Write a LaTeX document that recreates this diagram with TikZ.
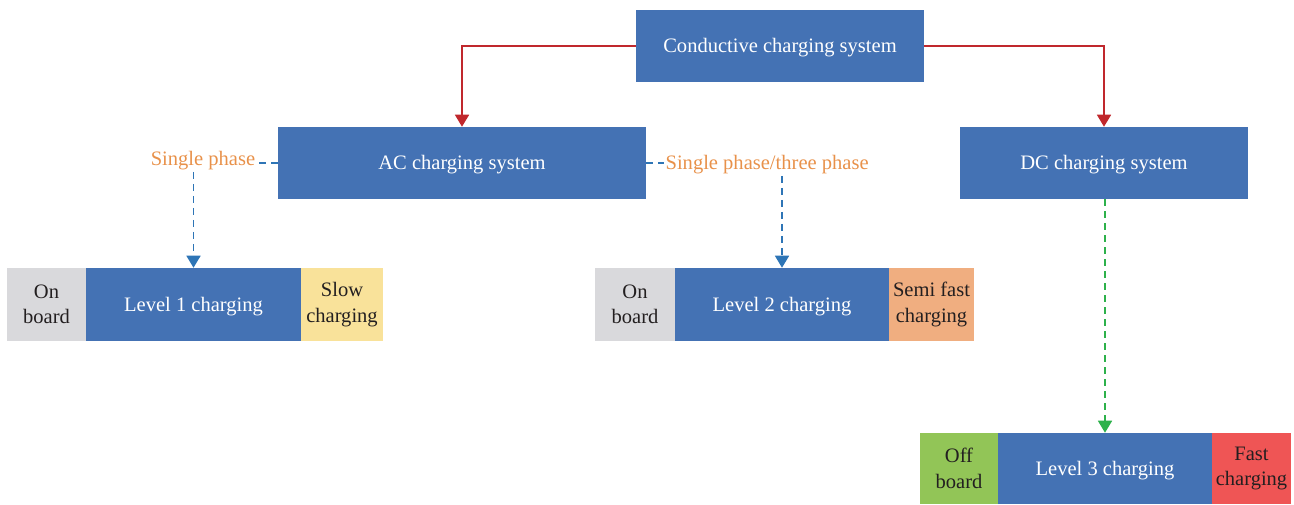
\documentclass[tikz,border=0pt]{standalone}
\usepackage{fontspec}
\setmainfont{Liberation Serif}
\usetikzlibrary{arrows.meta}
\definecolor{bbox}{HTML}{4472B4}
\definecolor{redarr}{HTML}{C0282D}
\definecolor{orangetxt}{HTML}{E8914A}
\definecolor{bluearr}{HTML}{2E75B6}
\definecolor{greenarr}{HTML}{2DB14B}
\definecolor{greybox}{HTML}{D9D9DC}
\definecolor{yellowbox}{HTML}{F9E29A}
\definecolor{peachbox}{HTML}{F0AE80}
\definecolor{greenbox}{HTML}{92C557}
\definecolor{redbox}{HTML}{EF5555}
\definecolor{darktxt}{HTML}{231F20}
\tikzset{
  mainbox/.style={fill=bbox, text=white, inner sep=0pt, font=\fontsize{15.4}{19}\selectfont, text height=13.6pt, text depth=3.4pt},
  sidebox/.style={inner sep=0pt, text=darktxt, font=\fontsize{15.4}{19}\selectfont, align=center},
  lbl/.style={text=orangetxt, inner sep=1pt, font=\fontsize{15.4}{19}\selectfont},
  redline/.style={draw=redarr, line width=1.2pt, -{Triangle[width=10.5pt,length=9pt]}},
  bluedash/.style={draw=bluearr, line width=1.2pt, dash pattern=on 5pt off 4pt},
  bluedarr/.style={bluedash, -{Triangle[width=10.5pt,length=9pt]}},
  greendarr/.style={draw=greenarr, line width=1.2pt, dash pattern=on 5pt off 4pt, -{Triangle[width=10.5pt,length=9pt]}}
}
\begin{document}
\begin{tikzpicture}[x=0.75pt,y=-0.75pt]
\useasboundingbox (0,0) rectangle (1294,504);
% top
\node[mainbox, minimum width=216pt, minimum height=54pt] (cond) at (780,46) {Conductive charging system};
\node[mainbox, minimum width=276pt, minimum height=54pt] (ac) at (462,163) {AC charging system};
\node[mainbox, minimum width=216pt, minimum height=54pt] (dc) at (1104,163) {DC charging system};
% level 1
\node[sidebox, fill=greybox, minimum width=59.25pt, minimum height=54.75pt] (on1) at (46.5,304.5) {On\\board};
\node[mainbox, minimum width=161.25pt, minimum height=54.75pt] (l1) at (193.5,304.5) {Level 1 charging};
\node[sidebox, fill=yellowbox, minimum width=61.5pt, minimum height=54.75pt] (slow) at (342,304.5) {Slow\\charging};
% level 2
\node[sidebox, fill=greybox, minimum width=60pt, minimum height=54.75pt] (on2) at (635,304.5) {On\\board};
\node[mainbox, minimum width=160.5pt, minimum height=54.75pt] (l2) at (782,304.5) {Level 2 charging};
\node[sidebox, fill=peachbox, minimum width=63.75pt, minimum height=54.75pt] (semi) at (931.5,304.5) {Semi fast\\charging};
% level 3
\node[sidebox, fill=greenbox, minimum width=58.5pt, minimum height=53.25pt] (off3) at (959,468.5) {Off\\board};
\node[mainbox, minimum width=160.5pt, minimum height=53.25pt] (l3) at (1105,468.5) {Level 3 charging};
\node[sidebox, fill=redbox, minimum width=59.25pt, minimum height=53.25pt] (fast) at (1251.5,468.5) {Fast\\charging};
% labels
\node[lbl] (sp1) at (203,161) {Single phase};
\node[lbl, anchor=west] (sp2) at (664,165) {Single phase/three phase};
% connectors
\draw[redline] (cond.west) -| (ac.north);
\draw[redline] (cond.east) -| (dc.north);
\draw[bluedash] (ac.west) -- (ac.west -| sp1.east);
\draw[bluedash] (ac.east) -- (ac.east -| sp2.west);
\draw[bluedarr] (sp1.south -| l1.north) -- (l1.north);
\draw[bluedarr] (sp2.south -| l2.north) -- (l2.north);
\draw[greendarr] (dc.south -| l3.north) -- (l3.north);
\end{tikzpicture}
\end{document}
